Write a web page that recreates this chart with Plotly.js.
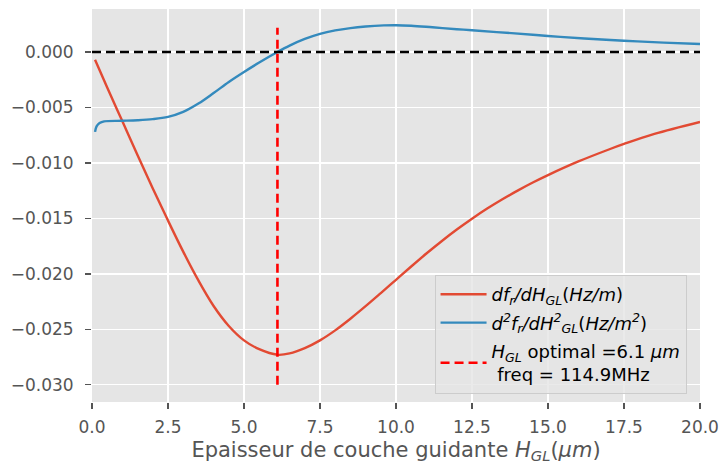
<!DOCTYPE html>
<html>
<head>
<meta charset="utf-8">
<script src="https://cdn.plot.ly/plotly-3.0.1.min.js"></script>
<style>html,body{margin:0;padding:0;background:#fff;}#chart{width:721px;height:466px;}</style>
</head>
<body>
<div id="chart"></div>
<script>
// Epaisseur de couche guidante H_GL (µm)
const xFirst = [0.1, 0.5, 1.0, 1.5, 2.0, 2.5, 3.0, 3.5, 4.0, 4.5, 5.0, 5.5, 6.1, 6.5, 7.0, 7.5, 8.0, 8.5, 9.0, 9.5, 10.0, 10.5, 11.0, 11.5, 12.0, 12.5, 13.0, 13.5, 14.0, 14.5, 15.0, 16.0, 17.0, 17.5, 18.5, 20.0];
// df_r/dH_GL (Hz/m)
const dfFirst = [-0.0007, -0.0032, -0.00625, -0.0093, -0.0123, -0.0152, -0.0180, -0.0206, -0.0229, -0.0247, -0.0260, -0.0268, -0.0273, -0.02718, -0.0267, -0.0260, -0.0251, -0.02405, -0.02292, -0.02174, -0.02054, -0.01934, -0.01817, -0.01706, -0.01601, -0.01503, -0.01412, -0.01328, -0.0125, -0.01177, -0.0111, -0.00987, -0.00879, -0.00829, -0.00738, -0.0063];

const xSecond = [0.1, 0.15, 0.25, 0.4, 1.0, 1.5, 2.0, 2.5, 3.0, 3.5, 4.0, 4.5, 5.0, 5.5, 6.1, 6.5, 7.0, 7.5, 8.0, 8.5, 9.0, 9.6, 10.0, 10.5, 11.2, 12.0, 12.5, 13.8, 15.0, 16.2, 17.5, 18.8, 20.0];
// d2f_r/dH_GL^2 (Hz/m^2)
const dfSecond = [-0.0072, -0.0067, -0.0064, -0.00625, -0.0062, -0.00615, -0.00605, -0.00585, -0.0054, -0.00465, -0.0037, -0.0027, -0.0018, -0.00095, 0.0, 0.00058, 0.00118, 0.00164, 0.00195, 0.00216, 0.0023, 0.0024, 0.00242, 0.00237, 0.00223, 0.00206, 0.00196, 0.0017, 0.00145, 0.00122, 0.00102, 0.00085, 0.00072];

// zero reference line
const zeroX = [0, 20];
const zeroY = [0, 0];

// optimal thickness marker
const optimalH = 6.1;
const optimalFreq = 114.9;
const markerY = [-0.030, 0.0022];

const xTicks = [0, 2.5, 5, 7.5, 10, 12.5, 15, 17.5, 20];

const font = 'DejaVu Sans, Liberation Sans, sans-serif';

const traces = [
  {
    x: xFirst, y: dfFirst, mode: 'lines', type: 'scatter', legendgroup: 'a',
    name: '<i>df<sub>r</sub>/dH<sub>GL</sub></i>(<i>Hz/m</i>)',
    line: {color: '#E24A33', width: 2.4, shape: 'spline', smoothing: 1}
  },
  {
    x: xSecond, y: dfSecond, mode: 'lines', type: 'scatter', legendgroup: 'b',
    name: '<i>d<sup>2</sup>f<sub>r</sub>/dH<sup>2</sup><sub>GL</sub></i>(<i>Hz/m<sup>2</sup></i>)',
    line: {color: '#348ABD', width: 2.4, shape: 'spline', smoothing: 1}
  },
  {
    x: zeroX, y: zeroY, mode: 'lines', type: 'scatter', showlegend: false, legendgroup: 'z',
    line: {color: '#000000', width: 2.6, dash: '9px,5px'}
  },
  {
    x: [optimalH, optimalH], y: markerY, mode: 'lines', type: 'scatter', legendgroup: 'c',
    name: '<i>H<sub>GL</sub></i> optimal =' + optimalH + ' <i>μm</i><br> freq = ' + optimalFreq + 'MHz',
    line: {color: '#FF0000', width: 2.6, dash: '9px,5px'}
  }
];

const layout = {
  width: 721, height: 466,
  margin: {l: 92, r: 21, t: 9, b: 64, pad: 0},
  paper_bgcolor: '#ffffff',
  plot_bgcolor: '#E5E5E5',
  font: {family: font, size: 17, color: '#555555'},
  showlegend: true,
  xaxis: {
    range: [0, 20],
    tickvals: xTicks,
    tickformat: '.1f',
    showgrid: true, gridcolor: '#ffffff', gridwidth: 1.4,
    zeroline: false, showline: false,
    ticks: 'outside', ticklen: 6, tickwidth: 1.4, tickcolor: '#555555',
    ticklabelstandoff: 4,
    tickfont: {family: font, size: 17, color: '#555555'},
    title: {text: 'Epaisseur de couche guidante <i>H<sub>GL</sub></i>(<i>μm</i>)', font: {family: font, size: 21, color: '#555555'}, standoff: 5}
  },
  yaxis: {
    range: [-0.03156, 0.00388],
    dtick: 0.005, tick0: 0,
    tickformat: '.3f',
    showgrid: true, gridcolor: '#ffffff', gridwidth: 1.4,
    zeroline: false, showline: false,
    ticks: 'outside', ticklen: 6, tickwidth: 1.4, tickcolor: '#555555',
    ticklabelstandoff: 8,
    tickfont: {family: font, size: 17, color: '#555555'}
  },
  legend: {
    x: 0.5634, y: 0.323, xanchor: 'left', yanchor: 'top',
    bgcolor: 'rgba(229,229,229,0.8)', bordercolor: '#cccccc', borderwidth: 1,
    font: {family: font, size: 18, color: '#000000'},
    traceorder: 'grouped', tracegroupgap: 2, itemwidth: 46
  }
};

Plotly.newPlot('chart', traces, layout, {displayModeBar: false, staticPlot: true});
</script>
</body>
</html>
